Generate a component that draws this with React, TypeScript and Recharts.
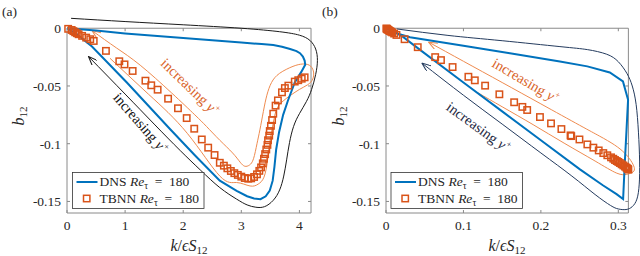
import React from "react";
import {
  ComposedChart,
  Line,
  Scatter,
  XAxis,
  YAxis,
  ReferenceLine,
  ReferenceDot,
} from "recharts";

type P = [number, number];

// ---- panel (a): b12 vs k/eps S12 ----
const dnsA: P[] = [
  [0, 0], [0.5, -0.002], [1.0, -0.0045], [1.5, -0.0065], [2.0, -0.0085], [2.5, -0.0105],
  [3.0, -0.0124], [3.35, -0.0137], [3.55, -0.0146], [3.7, -0.016], [3.84, -0.018],
  [3.95, -0.0198], [4.01, -0.0216], [4.06, -0.0245], [4.09, -0.028], [4.1, -0.0316],
  [4.03, -0.038], [3.92, -0.047], [3.8, -0.063], [3.72, -0.075], [3.65, -0.09],
  [3.6, -0.105], [3.57, -0.12], [3.54, -0.132], [3.49, -0.1405], [3.42, -0.1455],
  [3.33, -0.148], [3.22, -0.1475], [3.1, -0.1455], [2.92, -0.1408], [2.63, -0.132],
  [2.2, -0.11], [1.78, -0.0877], [1.03, -0.047], [0.43, -0.0158], [0.15, -0.0045], [0, 0],
];

const tbnnA: P[] = [
  [0.02, -0.0005], [0.08, -0.0015], [0.11, -0.0025], [0.14, -0.0035], [0.17, -0.0043],
  [0.2, -0.0052], [0.26, -0.0066], [0.33, -0.0081], [0.4, -0.0095], [0.46, -0.011],
  [0.67, -0.0196], [0.9, -0.0286], [0.99, -0.0313], [1.13, -0.037], [1.35, -0.0454],
  [1.45, -0.0494], [1.56, -0.0532], [1.74, -0.061], [1.91, -0.0693], [2.06, -0.0778],
  [2.19, -0.087], [2.32, -0.0963], [2.43, -0.1034], [2.54, -0.1098], [2.63, -0.1165],
  [2.7, -0.119], [2.76, -0.1213], [2.82, -0.1236], [2.88, -0.1255], [2.94, -0.127],
  [3.0, -0.1285], [3.06, -0.1297], [3.12, -0.1303], [3.17, -0.13], [3.22, -0.1288],
  [3.27, -0.1265], [3.31, -0.1235], [3.34, -0.1205], [3.37, -0.117], [3.39, -0.113],
  [3.41, -0.109], [3.43, -0.105], [3.45, -0.101], [3.46, -0.097], [3.48, -0.093],
  [3.49, -0.089], [3.51, -0.0845], [3.53, -0.0795], [3.55, -0.074], [3.59, -0.067],
  [3.63, -0.0625], [3.7, -0.0555], [3.75, -0.0518], [3.81, -0.0497], [3.92, -0.0462],
  [3.98, -0.045], [4.04, -0.0437], [4.09, -0.0425],
];

// hand-drawn guide loop around the TBNN points, arrow at the end
const guideA: P[] = [
  [0.43, -0.002], [0.85, -0.017], [1.26, -0.032], [1.8, -0.056], [2.2, -0.075],
  [2.4, -0.085], [2.63, -0.097], [2.85, -0.108], [2.98, -0.116], [3.06, -0.1195],
  [3.14, -0.1185], [3.21, -0.113], [3.27, -0.1], [3.32, -0.088], [3.38, -0.072],
  [3.44, -0.058], [3.52, -0.047], [3.66, -0.039], [3.89, -0.033], [4.05, -0.031],
  [4.17, -0.032], [4.24, -0.037], [4.23, -0.044], [4.14, -0.049], [4.0, -0.053],
  [3.85, -0.058], [3.72, -0.063], [3.61, -0.07], [3.55, -0.082], [3.49, -0.099],
  [3.45, -0.115], [3.39, -0.129], [3.29, -0.135], [3.15, -0.1366], [2.92, -0.1336],
  [2.63, -0.128], [2.07, -0.091], [1.4, -0.057], [0.74, -0.026],
].reverse() as P[];

// black loop around the DNS curve, arrow at its lower-left end
const outerA: P[] = [
  [0.37, -0.0245], [1.0, -0.057], [1.5, -0.083], [1.95, -0.106], [2.3, -0.123],
  [2.63, -0.138], [2.92, -0.148], [3.1, -0.153], [3.25, -0.155], [3.4, -0.1545],
  [3.55, -0.149], [3.66, -0.14], [3.73, -0.128], [3.78, -0.114], [3.83, -0.099],
  [3.9, -0.085], [4.0, -0.074], [4.12, -0.0635], [4.21, -0.053], [4.28, -0.04],
  [4.31, -0.028], [4.28, -0.018], [4.18, -0.0105], [4.0, -0.006], [3.66, -0.003],
  [3.0, 0.0], [2.0, 0.003], [1.0, 0.0058], [0.07, 0.0086],
];

// ---- panel (b) ----
const dnsB: P[] = [
  [0, 0], [0.006, -0.002], [0.012, -0.004], [0.031, -0.0078], [0.1, -0.0152],
  [0.16, -0.0217], [0.2246, -0.0288], [0.26, -0.033], [0.289, -0.0383], [0.306, -0.046],
  [0.3126, -0.062], [0.3106, -0.088], [0.3084, -0.116], [0.3062, -0.148], [0.2977, -0.1437],
  [0.28, -0.136], [0.25, -0.122], [0.2, -0.097], [0.15, -0.072], [0.1, -0.047],
  [0.044, -0.0187], [0.022, -0.0075], [0.01, -0.003], [0, 0],
];

const tbnnB: P[] = [
  [0.0005, -0.0002], [0.001, -0.0005], [0.0015, -0.0008], [0.002, -0.0011], [0.003, -0.0015],
  [0.004, -0.002], [0.005, -0.0024], [0.0065, -0.003], [0.008, -0.0036], [0.0105, -0.0046],
  [0.0135, -0.0058], [0.024, -0.0095], [0.041, -0.0164], [0.0635, -0.025], [0.071, -0.0276],
  [0.086, -0.0336], [0.1064, -0.042], [0.1147, -0.0451], [0.128, -0.0497], [0.1464, -0.0572],
  [0.1655, -0.0641], [0.1761, -0.0681], [0.1823, -0.0708], [0.1988, -0.0769], [0.2131, -0.0824],
  [0.2265, -0.0873], [0.2383, -0.0928], [0.2392, -0.0934], [0.2498, -0.0963], [0.26, -0.1006],
  [0.2678, -0.1034], [0.2747, -0.1058], [0.2806, -0.1081], [0.2858, -0.11], [0.2906, -0.1118],
  [0.2935, -0.113], [0.2957, -0.1141], [0.298, -0.115], [0.3, -0.1158], [0.302, -0.1167],
  [0.3043, -0.1178], [0.3065, -0.1188], [0.3086, -0.1198], [0.3103, -0.1206], [0.3115, -0.1213],
  [0.3125, -0.1219], [0.313, -0.1224],
];

const guideB: P[] = [
  [0.055, -0.012], [0.1, -0.0286], [0.15, -0.047], [0.2, -0.0655], [0.25, -0.084],
  [0.276, -0.0935], [0.295, -0.101], [0.308, -0.108], [0.316, -0.1145], [0.3205, -0.1205],
  [0.319, -0.1245], [0.311, -0.1265], [0.298, -0.1255], [0.27, -0.115], [0.23, -0.0995],
  [0.19, -0.0835], [0.15, -0.068], [0.119, -0.056],
].reverse() as P[];

const outerB: P[] = [
  [0.0464, -0.0302], [0.1, -0.058], [0.15, -0.083], [0.2, -0.108], [0.24, -0.128],
  [0.27, -0.144], [0.29, -0.1535], [0.3, -0.1565], [0.31, -0.157], [0.318, -0.1545],
  [0.324, -0.148], [0.327, -0.135], [0.3275, -0.115], [0.326, -0.09], [0.323, -0.066],
  [0.318, -0.05], [0.311, -0.039], [0.3, -0.029], [0.285, -0.0225], [0.26, -0.0185],
  [0.2246, -0.0159], [0.15, -0.0108], [0.08, -0.0062], [0.014, -0.0006],
];

const xTicksA = [0, 1, 2, 3, 4];
const xTicksB = [0, 0.1, 0.2, 0.3];
const yTicks = [-0.15, -0.1, -0.05, 0];

const FONT = "Liberation Serif, Times New Roman, DejaVu Serif, serif";
const BLUE = "#0072BD";
const ORANGE = "#D95319";
const GUIDE = "#EF8B4F";
const AXIS = "#8a8a8a";
const INK = "#262626";

const pts = (a: P[]) => a.map(([x, y]) => ({ x, y }));
const fmt = (v: number) => (v === 0 ? "0" : String(v));

function Square(props: any) {
  const { cx, cy } = props;
  if (cx == null || cy == null) return null;
  return (
    <rect x={cx - 3.2} y={cy - 3.2} width={6.4} height={6.4} fill="none" stroke={ORANGE} strokeWidth={1.5} />
  );
}

const note = (color: string, angle: number) => (p: any) => (
  <text
    x={p.cx}
    y={p.cy}
    transform={`rotate(${angle} ${p.cx} ${p.cy})`}
    textAnchor="middle"
    dy="0.35em"
    fill={color}
    style={{ fontFamily: FONT }}
    fontSize={14.5}
  >
    increasing <tspan fontStyle="italic">y</tspan>
    <tspan fontSize={9} dy={-6}>+</tspan>
  </text>
);

interface Note { x: number; y: number; angle: number; color: string }

interface PanelProps {
  dns: P[];
  tbnn: P[];
  guide: P[];
  outer: P[];
  outerColor: string;
  outerMarker: string;
  xMax: number;
  xEnd: number;
  xTicks: number[];
  yW: number;
  right: number;
  notes: Note[];
}

function Panel(p: PanelProps) {
  const plotW = 320 - p.yW - p.right;
  const tly = 3 / 1156;
  const tlx = (3 * p.xMax) / plotW;
  const tickStyle = { fontSize: 13.5, fill: INK, style: { fontFamily: FONT } };
  return (
    <ComposedChart width={320} height={256} margin={{ top: 16.7, right: p.right, bottom: 0, left: 0 }}>
      <XAxis
        type="number"
        dataKey="x"
        domain={[0, p.xMax]}
        ticks={p.xTicks}
        interval={0}
        tickFormatter={fmt}
        axisLine={false}
        tickLine={{ stroke: AXIS }}
        tickSize={-3}
        tickMargin={10}
        height={43}
        tick={tickStyle}
      />
      <YAxis
        type="number"
        dataKey="y"
        domain={[-0.16, 0.01]}
        ticks={yTicks}
        interval={0}
        tickFormatter={fmt}
        axisLine={false}
        tickLine={{ stroke: AXIS }}
        tickSize={-3}
        tickMargin={9}
        width={p.yW}
        tick={tickStyle}
      />
      {/* axes box */}
      <ReferenceLine segment={[{ x: 0, y: 0 }, { x: p.xEnd, y: 0 }]} stroke={AXIS} />
      <ReferenceLine segment={[{ x: p.xEnd, y: -0.16 }, { x: p.xEnd, y: 0 }]} stroke={AXIS} />
      <ReferenceLine segment={[{ x: 0, y: -0.16 }, { x: p.xEnd, y: -0.16 }]} stroke={AXIS} />
      <ReferenceLine segment={[{ x: 0, y: -0.16 }, { x: 0, y: 0 }]} stroke={AXIS} />
      {p.xTicks.slice(1).map((t) => (
        <ReferenceLine key={"tt" + t} segment={[{ x: t, y: 0 }, { x: t, y: -tly }]} stroke={AXIS} />
      ))}
      {yTicks.slice(0, 3).map((t) => (
        <ReferenceLine key={"rt" + t} segment={[{ x: p.xEnd, y: t }, { x: p.xEnd - tlx, y: t }]} stroke={AXIS} />
      ))}

      <Line
        data={pts(p.outer)}
        dataKey="y"
        type="natural"
        stroke={p.outerColor}
        strokeWidth={1}
        dot={false}
        activeDot={false}
        markerStart={`url(#${p.outerMarker})`}
        isAnimationActive={false}
      />
      <Line
        data={pts(p.guide)}
        dataKey="y"
        type="natural"
        stroke={GUIDE}
        strokeWidth={1}
        dot={false}
        activeDot={false}
        markerEnd="url(#arrO)"
        isAnimationActive={false}
      />
      <Line
        data={pts(p.dns)}
        dataKey="y"
        type="linear"
        stroke={BLUE}
        strokeWidth={2}
        dot={false}
        activeDot={false}
        isAnimationActive={false}
      />
      <Scatter data={pts(p.tbnn)} dataKey="y" shape={Square} isAnimationActive={false} />
      {p.notes.map((n, i) => (
        <ReferenceDot key={i} x={n.x} y={n.y} r={0} shape={note(n.color, n.angle)} />
      ))}
    </ComposedChart>
  );
}

function LegendBox({ left }: { left: number }) {
  const txt = (y: number, label: string) => (
    <text x={left + 27} y={y} fontSize={13.5} fill={INK}>
      {label} <tspan fontStyle="italic">Re</tspan>
      <tspan fontSize={9.5} dy={2.5}>τ</tspan>
      <tspan dy={-2.5}>{"\u2002=\u2002180"}</tspan>
    </text>
  );
  return (
    <g>
      <rect x={left} y={172.5} width={131.5} height={36} fill="#fff" stroke="#333" strokeWidth={0.8} />
      <line x1={left + 4} x2={left + 25} y1={182} y2={182} stroke={BLUE} strokeWidth={2} />
      {txt(186, "DNS")}
      <rect x={left + 11} y={195.3} width={6.4} height={6.4} fill="none" stroke={ORANGE} strokeWidth={1.5} />
      {txt(203, "TBNN")}
    </g>
  );
}

function Titles({ dx, tag, xc }: { dx: number; tag: string; xc: number }) {
  return (
    <g fill={INK}>
      <text x={dx + 2} y={16} fontSize={13.5}>{tag}</text>
      <text x={xc} y={251} fontSize={16} textAnchor="middle">
        <tspan fontStyle="italic">k</tspan>/<tspan fontStyle="italic">ϵS</tspan>
        <tspan fontSize={11} dy={3}>12</tspan>
      </text>
      <text transform={`translate(${dx + 24} 116) rotate(-90)`} fontSize={16} textAnchor="middle">
        <tspan fontStyle="italic">b</tspan>
        <tspan fontSize={11} dy={3}>12</tspan>
      </text>
    </g>
  );
}

export default function App() {
  return (
    <div
      style={{
        position: "absolute",
        left: 0,
        top: 0,
        width: 640,
        height: 256,
        background: "#fff",
        fontFamily: FONT,
      }}
    >
      <div style={{ position: "absolute", left: 0, top: 0 }}>
        <Panel
          dns={dnsA}
          tbnn={tbnnA}
          guide={guideA}
          outer={outerA}
          outerColor="#1a1a1a"
          outerMarker="arrK"
          xMax={4.32}
          xEnd={4.2}
          xTicks={xTicksA}
          yW={67}
          right={2}
          notes={[
            { x: 2.12, y: -0.0506, angle: 44, color: "#D9642A" },
            { x: 1.27, y: -0.082, angle: 49, color: "#111" },
          ]}
        />
      </div>
      <div style={{ position: "absolute", left: 320, top: 0 }}>
        <Panel
          dns={dnsB}
          tbnn={tbnnB}
          guide={guideB}
          outer={outerB}
          outerColor="#243B5E"
          outerMarker="arrN"
          xMax={0.328}
          xEnd={0.313}
          xTicks={xTicksB}
          yW={66}
          right={0}
          notes={[
            { x: 0.1805, y: -0.0453, angle: 30.5, color: "#D9642A" },
            { x: 0.1194, y: -0.0855, angle: 36, color: "#1f2a44" },
          ]}
        />
      </div>
      <svg
        width={640}
        height={256}
        style={{ position: "absolute", left: 0, top: 0, pointerEvents: "none", fontFamily: FONT }}
      >
        <defs>
          <marker id="arrK" viewBox="0 0 10 8" refX="10" refY="4" markerWidth="9" markerHeight="7" markerUnits="userSpaceOnUse" orient="auto-start-reverse">
            <path d="M0,0 L10,4 L0,8" fill="none" stroke="#1a1a1a" strokeWidth={1.2} />
          </marker>
          <marker id="arrN" viewBox="0 0 10 8" refX="10" refY="4" markerWidth="9" markerHeight="7" markerUnits="userSpaceOnUse" orient="auto-start-reverse">
            <path d="M0,0 L10,4 L0,8" fill="none" stroke="#243B5E" strokeWidth={1.2} />
          </marker>
          <marker id="arrO" viewBox="0 0 10 8" refX="10" refY="4" markerWidth="9" markerHeight="7" markerUnits="userSpaceOnUse" orient="auto">
            <path d="M0,0 L10,4 L0,8" fill="none" stroke={GUIDE} strokeWidth={1.2} />
          </marker>
        </defs>
        <LegendBox left={72.5} />
        <LegendBox left={391} />
        <Titles dx={0} tag="(a)" xc={189} />
        <Titles dx={320} tag="(b)" xc={507} />
      </svg>
    </div>
  );
}
